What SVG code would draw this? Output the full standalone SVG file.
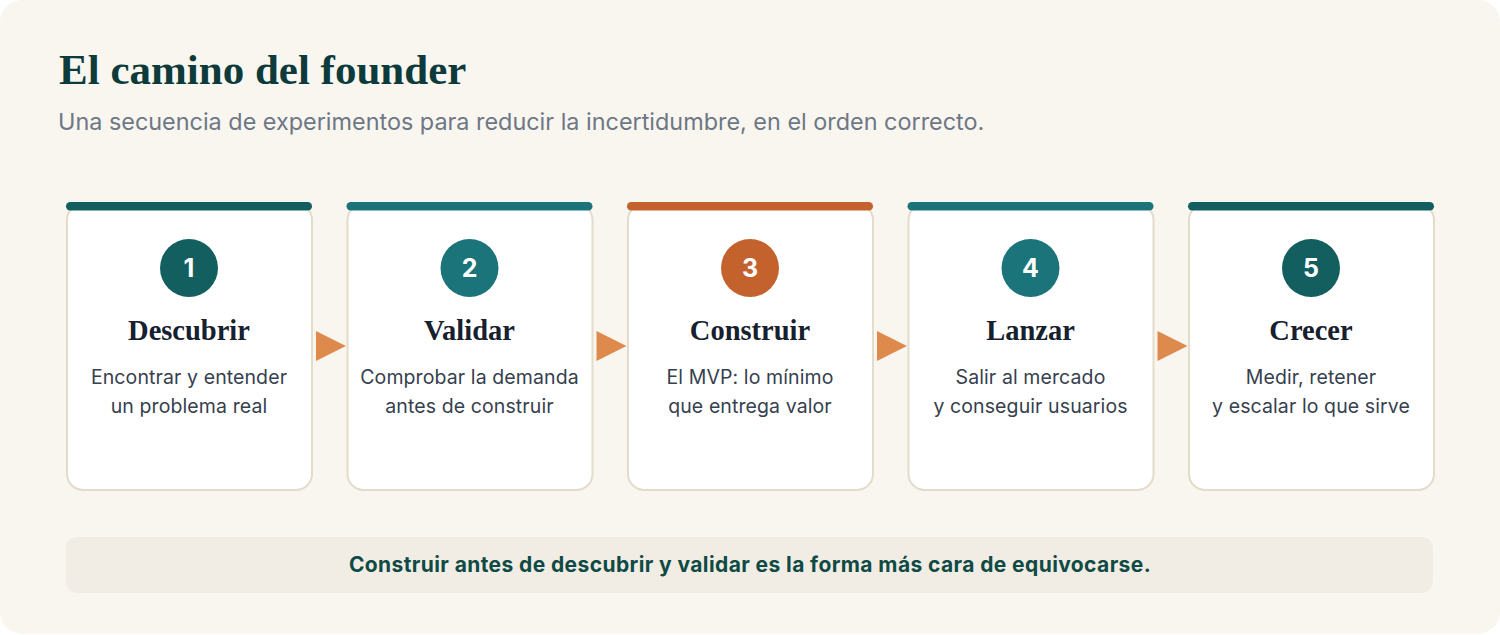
<svg xmlns="http://www.w3.org/2000/svg" width="1500" height="635" viewBox="0 0 1500 635">
<style>
.card{fill:#FFFFFF;stroke:#E3DCCB;stroke-width:2}
.num{font-family:Inter,"Liberation Sans",sans-serif;font-weight:700;font-size:25px;fill:#FFFFFF;text-anchor:middle}
.ttl{font-family:"Liberation Serif","DejaVu Serif",serif;font-weight:700;font-size:28.5px;fill:#16202E;text-anchor:middle}
.desc{font-family:Inter,"Liberation Sans",sans-serif;font-size:19.5px;letter-spacing:0.1px;fill:#36404E;text-anchor:middle}
.arrow{fill:#DF8A4D}
.dark{fill:#135E5E}
.mid{fill:#1B7479}
.orange{fill:#C4622D}
</style>
<rect x="0" y="0" width="1500" height="635" fill="#FFFFFF"/>
<rect x="0" y="0" width="1500" height="634" rx="22" fill="#F9F6F0"/>
<text x="59" y="84" font-family="'Liberation Serif','DejaVu Serif',serif" font-weight="700" font-size="43" fill="#0D3B3B">El camino del founder</text>
<text x="58" y="130" font-family="Inter,'Liberation Sans',sans-serif" font-size="23.4" fill="#6E7785">Una secuencia de experimentos para reducir la incertidumbre, en el orden correcto.</text>
<g id="connectors">
<polygon class="arrow" points="316,331 346,346 316,361"/>
<polygon class="arrow" points="596.5,331 626.5,346 596.5,361"/>
<polygon class="arrow" points="877,331 907,346 877,361"/>
<polygon class="arrow" points="1157.5,331 1187.5,346 1157.5,361"/>
</g>
<g id="node1">
<rect class="card" x="67" y="204" width="245" height="286" rx="16"/>
<rect class="dark" x="66" y="202" width="246" height="8.5" rx="4.25"/>
<circle class="dark" cx="189" cy="268" r="29"/>
<text class="num" x="189" y="277">1</text>
<text class="ttl" x="189" y="340">Descubrir</text>
<text class="desc" x="189" y="384">Encontrar y entender</text>
<text class="desc" x="189" y="413">un problema real</text>
</g>
<g id="node2">
<rect class="card" x="347.5" y="204" width="245" height="286" rx="16"/>
<rect class="mid" x="346.5" y="202" width="246" height="8.5" rx="4.25"/>
<circle class="mid" cx="469.5" cy="268" r="29"/>
<text class="num" x="469.5" y="277">2</text>
<text class="ttl" x="469.5" y="340">Validar</text>
<text class="desc" x="469.5" y="384">Comprobar la demanda</text>
<text class="desc" x="469.5" y="413">antes de construir</text>
</g>
<g id="node3">
<rect class="card" x="628" y="204" width="245" height="286" rx="16"/>
<rect class="orange" x="627" y="202" width="246" height="8.5" rx="4.25"/>
<circle class="orange" cx="750" cy="268" r="29"/>
<text class="num" x="750" y="277">3</text>
<text class="ttl" x="750" y="340">Construir</text>
<text class="desc" x="750" y="384">El MVP: lo mínimo</text>
<text class="desc" x="750" y="413">que entrega valor</text>
</g>
<g id="node4">
<rect class="card" x="908.5" y="204" width="245" height="286" rx="16"/>
<rect class="mid" x="907.5" y="202" width="246" height="8.5" rx="4.25"/>
<circle class="mid" cx="1030.5" cy="268" r="29"/>
<text class="num" x="1030.5" y="277">4</text>
<text class="ttl" x="1030.5" y="340">Lanzar</text>
<text class="desc" x="1030.5" y="384">Salir al mercado</text>
<text class="desc" x="1030.5" y="413">y conseguir usuarios</text>
</g>
<g id="node5">
<rect class="card" x="1189" y="204" width="245" height="286" rx="16"/>
<rect class="dark" x="1188" y="202" width="246" height="8.5" rx="4.25"/>
<circle class="dark" cx="1311" cy="268" r="29"/>
<text class="num" x="1311" y="277">5</text>
<text class="ttl" x="1311" y="340">Crecer</text>
<text class="desc" x="1311" y="384">Medir, retener</text>
<text class="desc" x="1311" y="413">y escalar lo que sirve</text>
</g>
<g id="banner">
<rect x="66" y="537" width="1367" height="56" rx="11" fill="#F1EDE4"/>
<text x="750" y="572" font-family="Inter,'Liberation Sans',sans-serif" font-weight="700" font-size="21" letter-spacing="0.4" fill="#0F4A45" text-anchor="middle">Construir antes de descubrir y validar es la forma más cara de equivocarse.</text>
</g>
</svg>
